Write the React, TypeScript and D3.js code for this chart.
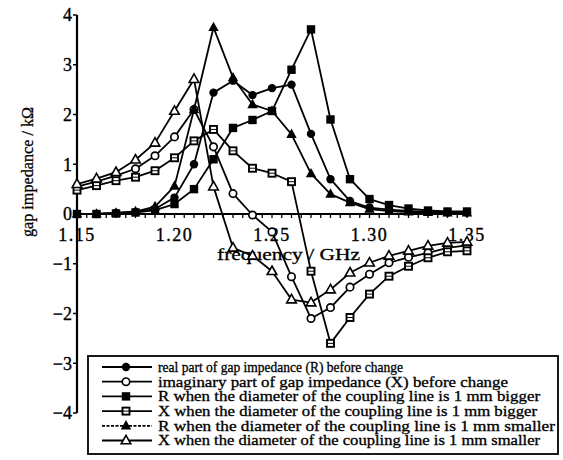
import React from "react";
import * as d3 from "d3";

const freq = [1.15, 1.16, 1.17, 1.18, 1.19, 1.2, 1.21, 1.22, 1.23, 1.24, 1.25, 1.26, 1.27, 1.28, 1.29, 1.3, 1.31, 1.32, 1.33, 1.34, 1.35];

const rBefore = [0.0, 0.0, 0.02, 0.04, 0.1, 0.33, 1.0, 2.44, 2.68, 2.39, 2.53, 2.6, 1.61, 0.7, 0.26, 0.13, 0.09, 0.06, 0.04, 0.03, 0.03];
const xBefore = [0.55, 0.65, 0.77, 0.91, 1.17, 1.55, 2.1, 1.35, 0.41, -0.02, -0.36, -1.26, -2.1, -1.88, -1.47, -1.21, -0.98, -0.87, -0.78, -0.68, -0.63];
const rBigger = [0.0, 0.0, 0.01, 0.03, 0.08, 0.2, 0.5, 1.1, 1.73, 1.89, 2.07, 2.9, 3.71, 1.9, 0.7, 0.3, 0.18, 0.11, 0.07, 0.05, 0.05];
const xBigger = [0.48, 0.57, 0.67, 0.74, 0.87, 1.13, 1.47, 1.7, 1.27, 0.92, 0.82, 0.65, -1.15, -2.6, -2.08, -1.61, -1.25, -1.05, -0.88, -0.76, -0.74];
const rSmaller = [0.0, 0.0, 0.02, 0.05, 0.15, 0.56, 2.1, 3.75, 2.74, 2.2, 2.07, 1.6, 0.81, 0.4, 0.23, 0.1, 0.06, 0.04, 0.03, 0.02, 0.02];
const xSmaller = [0.6, 0.71, 0.84, 1.09, 1.43, 2.07, 2.71, 0.55, -0.68, -0.84, -1.15, -1.72, -1.78, -1.52, -1.18, -0.98, -0.84, -0.74, -0.64, -0.58, -0.56];

const legendLabels = [
  "real part of gap impedance (R) before change",
  "imaginary part of gap impedance (X) before change",
  "R when the diameter of the coupling line is 1 mm bigger",
  "X when the diameter of the coupling line is 1 mm bigger",
  "R when the diameter of the coupling line is 1 mm smaller",
  "X when the diameter of the coupling line is 1 mm smaller",
];
const legendTextWidths = [245, 350, 382, 379, 397, 382];

const yTicks = [-4, -3, -2, -1, 0, 1, 2, 3, 4];
const xTickLabels = ["1.15", "1.20", "1.25", "1.30", "1.35"];

type Kind = "circleF" | "circleO" | "squareF" | "squareO" | "triF" | "triO";
const seriesList: { values: number[]; kind: Kind }[] = [
  { values: rBefore, kind: "circleF" },
  { values: xBefore, kind: "circleO" },
  { values: rBigger, kind: "squareF" },
  { values: xBigger, kind: "squareO" },
  { values: rSmaller, kind: "triF" },
  { values: xSmaller, kind: "triO" },
];

const FONT = "'Liberation Serif', 'Times New Roman', serif";

function Marker({ kind, cx, cy }: { kind: Kind; cx: number; cy: number }) {
  switch (kind) {
    case "circleF":
      return <circle cx={cx} cy={cy} r={4.2} fill="#000" />;
    case "circleO":
      return <circle cx={cx} cy={cy} r={3.7} fill="#fff" stroke="#000" strokeWidth={1.7} />;
    case "squareF":
      return <rect x={cx - 4.2} y={cy - 4.2} width={8.4} height={8.4} fill="#000" />;
    case "squareO":
      return (
        <g>
          <rect x={cx - 3.5} y={cy - 3.5} width={7} height={7} fill="#fff" stroke="#000" strokeWidth={1.9} />
          <line x1={cx - 3} x2={cx + 3} y1={cy} y2={cy} stroke="#000" strokeWidth={1} />
        </g>
      );
    case "triF":
      return <path d={`M${cx},${cy - 5.8}L${cx + 5.2},${cy + 3.6}L${cx - 5.2},${cy + 3.6}Z`} fill="#000" />;
    case "triO":
      return (
        <path
          d={`M${cx},${cy - 5.2}L${cx + 4.8},${cy + 3.3}L${cx - 4.8},${cy + 3.3}Z`}
          fill="#fff"
          stroke="#000"
          strokeWidth={1.6}
        />
      );
  }
  return null;
}

export default function App() {
  const x = d3.scaleLinear().domain([1.15, 1.35]).range([77, 467]);
  const y = d3.scaleLinear().domain([-4, 4]).range([413, 15]);
  const line = d3
    .line<number>()
    .x((_, i) => x(freq[i]))
    .y((v) => y(v));

  const minorTicks = d3.range(0, 41).map((k) => 1.15 + k * 0.005);

  const legX = 88;
  const legY = 356;
  const legW = 470;
  const legH = 98;
  const rowY0 = 367;
  const rowStep = 14.7;

  return (
    <svg
      width={563}
      height={460}
      style={{ position: "absolute", left: 0, top: 0, background: "#fff" }}
      fontFamily={FONT}
    >
      <rect x={0} y={0} width={563} height={460} fill="#fff" />
      {/* Y axis */}
      <line x1={x(1.15)} x2={x(1.15)} y1={y(4)} y2={y(-4)} stroke="#000" strokeWidth={2.2} />
      {yTicks.map((t) => (
        <g key={t}>
          <line x1={x(1.15) - 4} x2={x(1.15)} y1={y(t)} y2={y(t)} stroke="#000" strokeWidth={1.5} />
          <text
            x={x(1.15) - 5}
            y={y(t)}
            dy="0.35em"
            textAnchor="end"
            fontSize={18}
            fill="#000"
            stroke="#000"
            strokeWidth={0.35}
          >
            {t < 0 ? `−${-t}` : `${t}`}
          </text>
        </g>
      ))}
      {/* X axis */}
      <line x1={x(1.15)} x2={x(1.35) + 4} y1={y(0)} y2={y(0)} stroke="#000" strokeWidth={2.2} />
      {minorTicks.map((t, i) => (
        <line key={i} x1={x(t)} x2={x(t)} y1={y(0)} y2={y(0) + 4} stroke="#000" strokeWidth={1.3} />
      ))}
      {xTickLabels.map((l) => (
        <text
          key={l}
          x={x(+l)}
          y={y(0) + 27}
          textAnchor="middle"
          fontSize={18}
          fill="#000"
          stroke="#000"
          strokeWidth={0.35}
          letterSpacing={1.5}
        >
          {l}
        </text>
      ))}
      <text
        x={217}
        y={260}
        fontSize={17}
        fill="#000"
        stroke="#000"
        strokeWidth={0.3}
        textLength={143}
        lengthAdjust="spacingAndGlyphs"
      >
        frequency / GHz
      </text>
      <text
        transform="translate(33,237) rotate(-90)"
        fontSize={17}
        fill="#000"
        stroke="#000"
        strokeWidth={0.3}
        textLength={130}
        lengthAdjust="spacingAndGlyphs"
      >
        gap impedance / kΩ
      </text>

      {/* Series */}
      {seriesList.map((s, si) => (
        <path key={si} d={line(s.values) || ""} fill="none" stroke="#000" strokeWidth={1.8} strokeLinejoin="round" />
      ))}
      {seriesList.map((s, si) => (
        <g key={"m" + si}>
          {s.values.map((v, i) => (
            <Marker key={i} kind={s.kind} cx={x(freq[i])} cy={y(v)} />
          ))}
        </g>
      ))}

      {/* Legend */}
      <rect x={legX} y={legY} width={legW} height={legH} fill="#fff" stroke="#000" strokeWidth={1.8} />
      {seriesList.map((s, i) => {
        const ry = rowY0 + i * rowStep;
        return (
          <g key={"l" + i}>
            <line
              x1={102}
              x2={152}
              y1={ry}
              y2={ry}
              stroke="#000"
              strokeWidth={1.8}
              strokeDasharray={i === 4 ? "3,1.5" : undefined}
            />
            <Marker kind={s.kind} cx={126} cy={ry} />
            <text
              x={158}
              y={ry}
              dy="0.35em"
              fontSize={14}
              fill="#000"
              stroke="#000"
              strokeWidth={0.3}
              textLength={legendTextWidths[i]}
              lengthAdjust="spacingAndGlyphs"
            >
              {legendLabels[i]}
            </text>
          </g>
        );
      })}
    </svg>
  );
}
